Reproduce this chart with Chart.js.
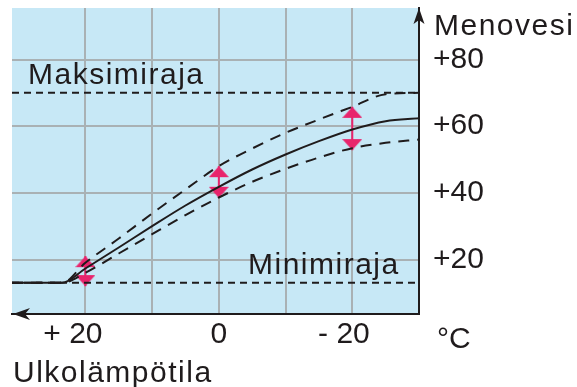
<!DOCTYPE html>
<html>
<head>
<meta charset="utf-8">
<script src="https://cdn.jsdelivr.net/npm/chart.js@4.4.1/dist/chart.umd.min.js"></script>
<style>
  html, body { margin: 0; padding: 0; background: #fff; }
  #wrap { width: 577px; height: 387px; }
</style>
</head>
<body>
<div id="wrap"><canvas id="chart" width="577" height="387"></canvas></div>
<script>
// Ulkolämpötila (°C) ja menoveden lämpötila
const outdoorTemp  = [31, 23.5, 20, 15, 10, 5, 0, -5, -10, -15, -20, -25, -30];
const supplyNormal = [13, 13, 17.3, 23.6, 30, 36.2, 41.8, 47, 51.5, 55.5, 59, 61.5, 62.4];
const supplyHigh   = [13, 13, 19, 26.3, 33.8, 41, 48, 53.3, 58, 62, 65.8, 69.6, 70];
const supplyLow    = [13, 13, 16, 21.8, 27.6, 33.3, 38.6, 43.3, 47.2, 50.6, 53.4, 55, 56];

// Rajat
const limitTemps = [31, -30];
const maxLimit = 70;
const minLimit = 13;

// Säätönuolet
const arrowTemps = [20, 0, -20];
const arrowLow   = [12, 38.5, 52.8];
const arrowHigh  = [21, 48, 65.8];

// Akselit
const xGridValues  = [20, 10, 0, -10, -20, -30];
const xLabelValues = [20, 0, -20];
const xLabelTexts  = ['+ 20', '0', '- 20'];
const yGridValues  = [20, 40, 60, 80];

const ink = '#1f1b1c';
const pink = '#e8246c';
const font = '"Liberation Sans", Arial, sans-serif';

function toPoints(xs, ys) {
    return xs.map((x, i) => ({ x: x, y: ys[i] }));
}

// Nuolenkärki: kärki kuvan keskellä, kolmio sen alla
function makeArrowHead() {
    const c = document.createElement('canvas');
    c.width = 20;
    c.height = 24;
    const g = c.getContext('2d');
    g.fillStyle = pink;
    g.beginPath();
    g.moveTo(10, 12);
    g.lineTo(20, 23);
    g.lineTo(0, 23);
    g.closePath();
    g.fill();
    return c;
}
const arrowHead = makeArrowHead();

function curve(ys, dash) {
    return {
        data: toPoints(outdoorTemp, ys),
        borderColor: ink,
        borderWidth: 2,
        borderDash: dash,
        pointRadius: 0,
        cubicInterpolationMode: 'monotone'
    };
}

function limitLine(value) {
    return {
        data: toPoints(limitTemps, [value, value]),
        borderColor: ink,
        borderWidth: 2,
        borderDash: [7, 5],
        pointRadius: 0
    };
}

const arrowSets = arrowTemps.map((t, i) => ({
    data: [{ x: t, y: arrowLow[i] }, { x: t, y: arrowHigh[i] }],
    borderColor: pink,
    borderWidth: 2,
    pointStyle: arrowHead,
    pointRadius: 6,
    pointRotation: [180, 0]
}));

// Tausta, akselien nuolet ja tekstit
const decorations = {
    id: 'decorations',
    beforeDraw(chart) {
        const { ctx, chartArea: a } = chart;
        ctx.save();
        ctx.fillStyle = '#c7e8f6';
        ctx.fillRect(a.left, a.top, a.right - a.left, a.bottom - a.top);
        ctx.restore();
    },
    afterDraw(chart) {
        const { ctx, chartArea: a, scales: { y } } = chart;
        ctx.save();
        ctx.fillStyle = ink;

        // x-akselin nuoli vasemmalle
        ctx.beginPath();
        ctx.moveTo(a.left + 1, a.bottom);
        ctx.lineTo(a.left + 18, a.bottom - 6);
        ctx.lineTo(a.left + 13, a.bottom);
        ctx.lineTo(a.left + 18, a.bottom + 6);
        ctx.closePath();
        ctx.fill();

        // y-akselin nuoli ylös
        ctx.beginPath();
        ctx.moveTo(a.right, a.top);
        ctx.lineTo(a.right + 5.5, a.top + 16);
        ctx.lineTo(a.right, a.top + 12);
        ctx.lineTo(a.right - 5.5, a.top + 16);
        ctx.closePath();
        ctx.fill();

        ctx.font = '30px ' + font;
        ctx.letterSpacing = '1.5px';
        ctx.textAlign = 'left';
        ctx.textBaseline = 'alphabetic';
        ctx.fillText('Maksimiraja', a.left + 16, y.getPixelForValue(maxLimit) - 9);
        ctx.fillText('Minimiraja', a.right - 171, y.getPixelForValue(minLimit) - 9);
        ctx.fillText('Menovesi', a.right + 15, a.top + 27);
        ctx.letterSpacing = '0px';
        ctx.fillText('°C', a.right + 18, 348);
        ctx.letterSpacing = '1.5px';
        ctx.fillText('Ulkolämpötila', 13, 382);
        ctx.restore();
    }
};

new Chart(document.getElementById('chart'), {
    type: 'line',
    data: {
        datasets: [
            curve(supplyNormal, []),
            curve(supplyHigh, [11, 8]),
            curve(supplyLow, [11, 8]),
            limitLine(maxLimit),
            limitLine(minLimit),
            ...arrowSets
        ]
    },
    options: {
        responsive: false,
        animation: false,
        events: [],
        layout: { padding: { left: 12, top: 8 } },
        plugins: {
            legend: { display: false },
            tooltip: { enabled: false }
        },
        scales: {
            x: {
                type: 'linear',
                reverse: true,
                min: -30,
                max: 31,
                afterBuildTicks: s => { s.ticks = xGridValues.map(v => ({ value: v })); },
                afterFit: s => {
                    s.height = 73;
                    s.paddingLeft = 0;
                    s.paddingRight = 0;
                },
                grid: { color: '#a9b1b4', lineWidth: 2, drawTicks: false },
                border: { display: true, color: ink, width: 2 },
                ticks: {
                    autoSkip: false,
                    maxRotation: 0,
                    padding: 3,
                    color: ink,
                    font: { family: font, size: 30 },
                    callback: v => {
                        const i = xLabelValues.indexOf(v);
                        if (i < 0) return '';
                        const t = xLabelTexts[i];
                        // numerot keskelle ruudukon viivaa, etumerkki jää vasemmalle
                        if (t[0] === '+') return t + '   ';
                        if (t[0] === '-') return t + '  ';
                        return t;
                    }
                }
            },
            y: {
                position: 'right',
                min: 3.65,
                max: 95.45,
                afterBuildTicks: s => { s.ticks = yGridValues.map(v => ({ value: v })); },
                afterFit: s => {
                    s.width = 158;
                    s.paddingTop = 0;
                    s.paddingBottom = 0;
                },
                grid: { color: '#a9b1b4', lineWidth: 2, drawTicks: false },
                border: { display: true, color: ink, width: 2 },
                ticks: {
                    padding: 14,
                    color: ink,
                    font: { family: font, size: 30 },
                    callback: v => '+' + v
                }
            }
        }
    },
    plugins: [decorations]
});
</script>
</body>
</html>
